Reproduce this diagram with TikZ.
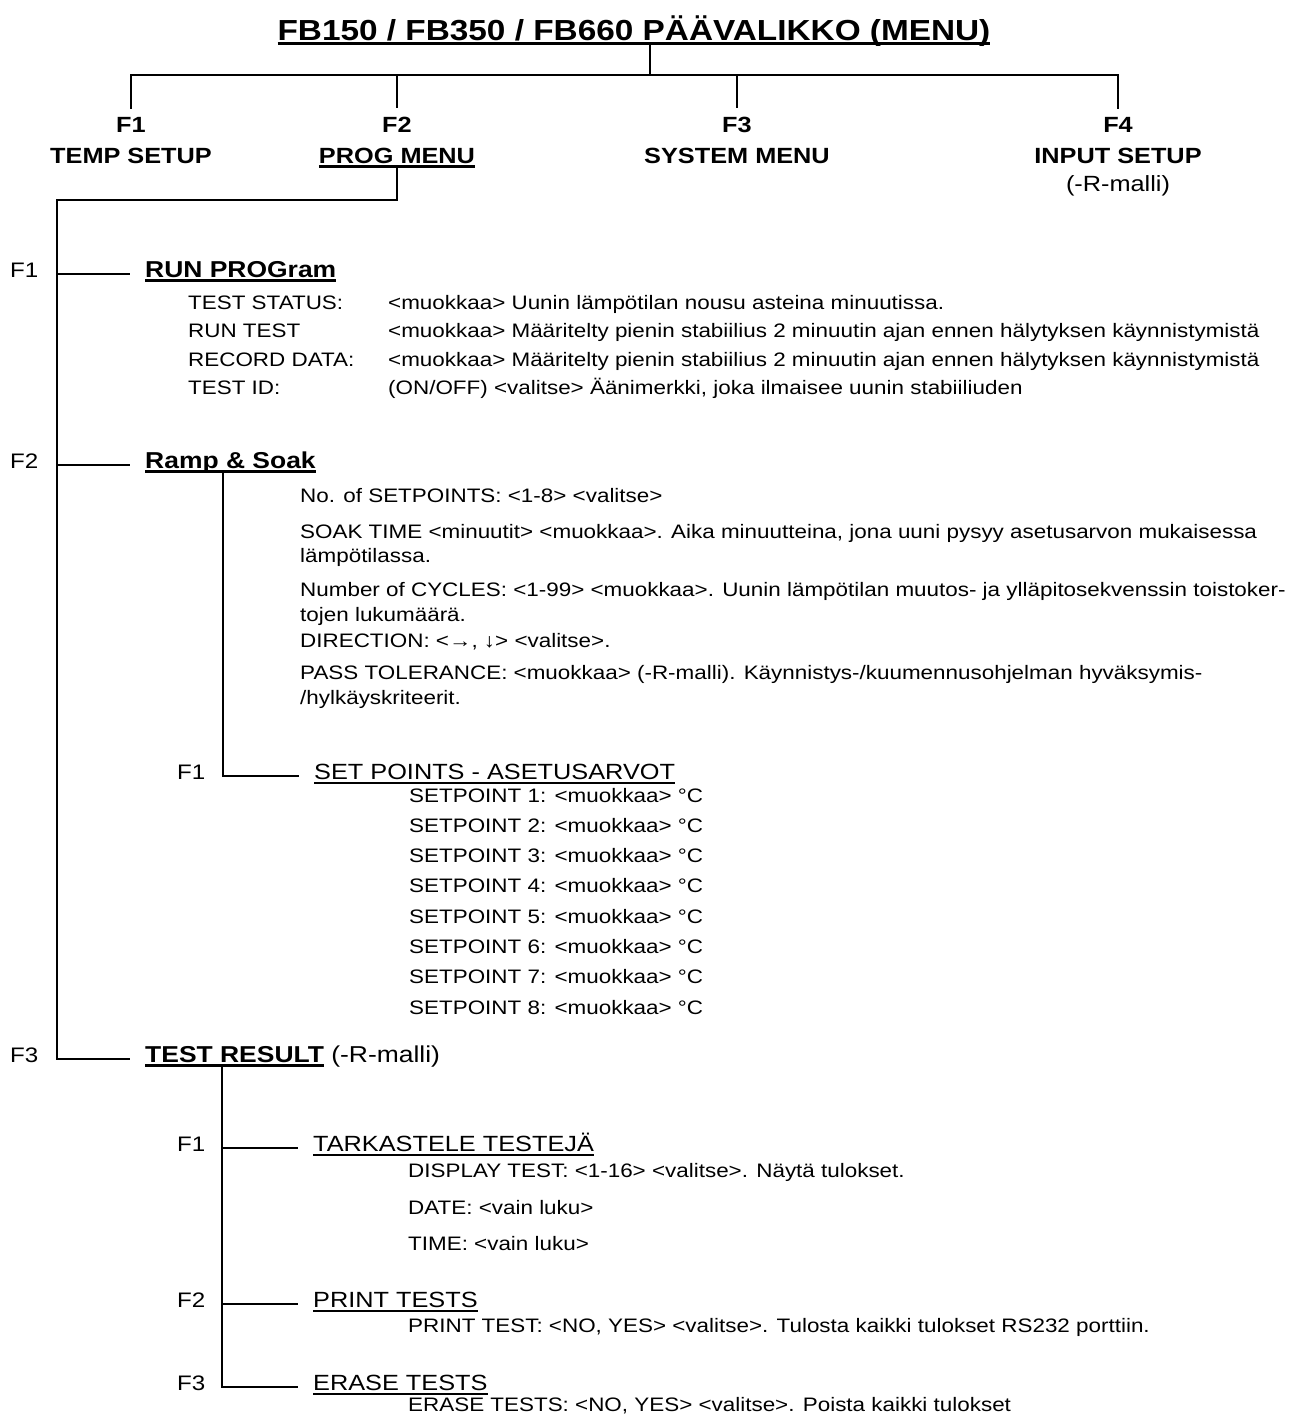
\documentclass[tikz,border=0pt]{standalone}
\usepackage{fontspec}
\setmainfont{Liberation Sans}[FakeStretch=1.15]
\usetikzlibrary{positioning,calc}

% underline helper: rule below the baseline
\newcommand{\ulx}[2][2pt]{\setbox0\hbox{#2}\rlap{\rule[-4.5pt]{\wd0}{#1}}\box0}

\tikzset{
    every picture/.style={line cap=rect},
    tree/.style={line width=2pt},
    txt/.style={inner sep=0pt,anchor=base west,font=\fontsize{19.5}{23}\selectfont},
    fkey/.style={inner sep=0pt,anchor=base west,font=\fontsize{21}{25}\selectfont},
    subhead/.style={inner sep=0pt,anchor=base west,font=\fontsize{22}{26}\selectfont},
    sechead/.style={inner sep=0pt,anchor=base west,font=\fontsize{23}{27}\selectfont\bfseries},
    tophead/.style={inner sep=0pt,anchor=base,font=\fontsize{22}{26}\selectfont\bfseries}
}

\begin{document}
\begin{tikzpicture}[x=1pt,y=-1pt]
  \useasboundingbox (0,0) rectangle (1288,1419);

  % title and top menu
  \node[inner sep=0pt,anchor=base,font=\fontsize{29}{34}\selectfont\bfseries] (title) at (634,40) {\ulx[3pt]{FB150 / FB350 / FB660 PÄÄVALIKKO (MENU)}};
  \coordinate (bar) at (650,75);

  \node[tophead] (k1) at (131,132) {F1};
  \node[tophead] (k2) at (397,132) {F2};
  \node[tophead] (k3) at (737,132) {F3};
  \node[tophead] (k4) at (1118,132) {F4};
  \node[tophead] (tempset) at (131,163) {TEMP SETUP};
  \node[tophead] (progmenu) at (397,163) {\ulx[3pt]{PROG MENU}};
  \node[tophead] (sysmenu) at (737,163) {SYSTEM MENU};
  \node[tophead] (inputset) at (1118,163) {INPUT SETUP};
  \node[tophead,font=\fontsize{22}{26}\selectfont] (inputnote) at (1118,191) {(-R-malli)};

  \draw[tree] (title.south -| bar) -- (bar);
  \draw[tree] (k1.north |- bar) -- (k4.north |- bar);
  \foreach \k in {k1,k2,k3,k4}
    \draw[tree] (\k.north |- bar) -- ([yshift=9pt]\k.north);

  % PROG MENU branches
  \coordinate (trunk) at (57,200);
  \node[fkey] (f1) at (10,277) {F1};
  \node[sechead] (runprog) at (145,277) {\ulx[3pt]{RUN PROGram}};
  \node[fkey] (f2) at (10,468) {F2};
  \node[sechead] (ramp) at (145,468) {\ulx[3pt]{Ramp \& Soak}};
  \node[fkey] (f3) at (10,1062) {F3};
  \node[sechead] (testres) at (145,1062) {\ulx[3pt]{TEST RESULT}\mdseries\ (-R-malli)};

  \draw[tree] (progmenu.south) -- (progmenu.south |- trunk) -- (trunk) -- (trunk |- testres.mid) -- ([xshift=-16pt]testres.mid west);
  \draw[tree] (trunk |- runprog.mid) -- ([xshift=-16pt]runprog.mid west);
  \draw[tree] (trunk |- ramp.mid) -- ([xshift=-16pt]ramp.mid west);

  % RUN PROGram
  \node[txt] (status) at (188,309) {TEST STATUS:};
  \node[txt] (runtest) at (188,337) {RUN TEST};
  \node[txt] (record) at (188,366) {RECORD DATA:};
  \node[txt] (testid) at (188,394) {TEST ID:};
  \node[txt] (statusv) at (388,309) {<muokkaa> Uunin lämpötilan nousu asteina minuutissa.};
  \node[txt] (runtestv) at (388,337) {<muokkaa> Määritelty pienin stabiilius 2 minuutin ajan ennen hälytyksen käynnistymistä};
  \node[txt] (recordv) at (388,366) {<muokkaa> Määritelty pienin stabiilius 2 minuutin ajan ennen hälytyksen käynnistymistä};
  \node[txt] (testidv) at (388,394) {(ON/OFF) <valitse> Äänimerkki, joka ilmaisee uunin stabiiliuden};

  % Ramp & Soak
  \node[txt] (nsp) at (300,502) {No. of SETPOINTS: <1-8> <valitse>};
  \node[txt] (soak) at (300,538) {SOAK TIME <minuutit> <muokkaa>. Aika minuutteina, jona uuni pysyy asetusarvon mukaisessa};
  \node[txt] (soakb) at (300,562) {lämpötilassa.};
  \node[txt] (cycles) at (300,596) {Number of CYCLES: <1-99> <muokkaa>. Uunin lämpötilan muutos- ja ylläpitosekvenssin toistoker-};
  \node[txt] (cyclesb) at (300,621) {tojen lukumäärä.};
  \node[txt] (dir) at (300,647) {DIRECTION: <→, ↓> <valitse>.};
  \node[txt] (pass) at (300,679) {PASS TOLERANCE: <muokkaa> (-R-malli). Käynnistys-/kuumennusohjelman hyväksymis-};
  \node[txt] (passb) at (300,704) {/hylkäyskriteerit.};

  \node[fkey] (rf1) at (177,779) {F1};
  \node[subhead] (setpts) at (314,779) {\ulx{SET POINTS - ASETUSARVOT}};
  \draw[tree] ($(ramp.south west)+(78,0)$) coordinate (rs) -- (rs |- setpts.mid) -- ([xshift=-16pt]setpts.mid west);

  \foreach \i in {1,...,8}
    \node[txt] (sp\i) at (409,{802+30.3*(\i-1)}) {SETPOINT \i: <muokkaa> °C};

  % TEST RESULT
  \node[fkey] (tf1) at (177,1151) {F1};
  \node[subhead] (view) at (313,1151) {\ulx{TARKASTELE TESTEJÄ}};
  \node[txt] (disp) at (408,1177) {DISPLAY TEST: <1-16> <valitse>. Näytä tulokset.};
  \node[txt] (date) at (408,1214) {DATE: <vain luku>};
  \node[txt] (time) at (408,1250) {TIME: <vain luku>};
  \node[fkey] (tf2) at (177,1307) {F2};
  \node[subhead] (print) at (313,1307) {\ulx{PRINT TESTS}};
  \node[txt] (printv) at (408,1332) {PRINT TEST: <NO, YES> <valitse>. Tulosta kaikki tulokset RS232 porttiin.};
  \node[fkey] (tf3) at (177,1390) {F3};
  \node[subhead] (erase) at (313,1390) {\ulx{ERASE TESTS}};
  \node[txt] (erasev) at (408,1411) {ERASE TESTS: <NO, YES> <valitse>. Poista kaikki tulokset};

  \draw[tree] ($(testres.south west)+(77,0)$) coordinate (ts) -- (ts |- erase.mid) -- ([xshift=-16pt]erase.mid west);
  \draw[tree] (ts |- view.mid) -- ([xshift=-16pt]view.mid west);
  \draw[tree] (ts |- print.mid) -- ([xshift=-16pt]print.mid west);
\end{tikzpicture}
\end{document}
